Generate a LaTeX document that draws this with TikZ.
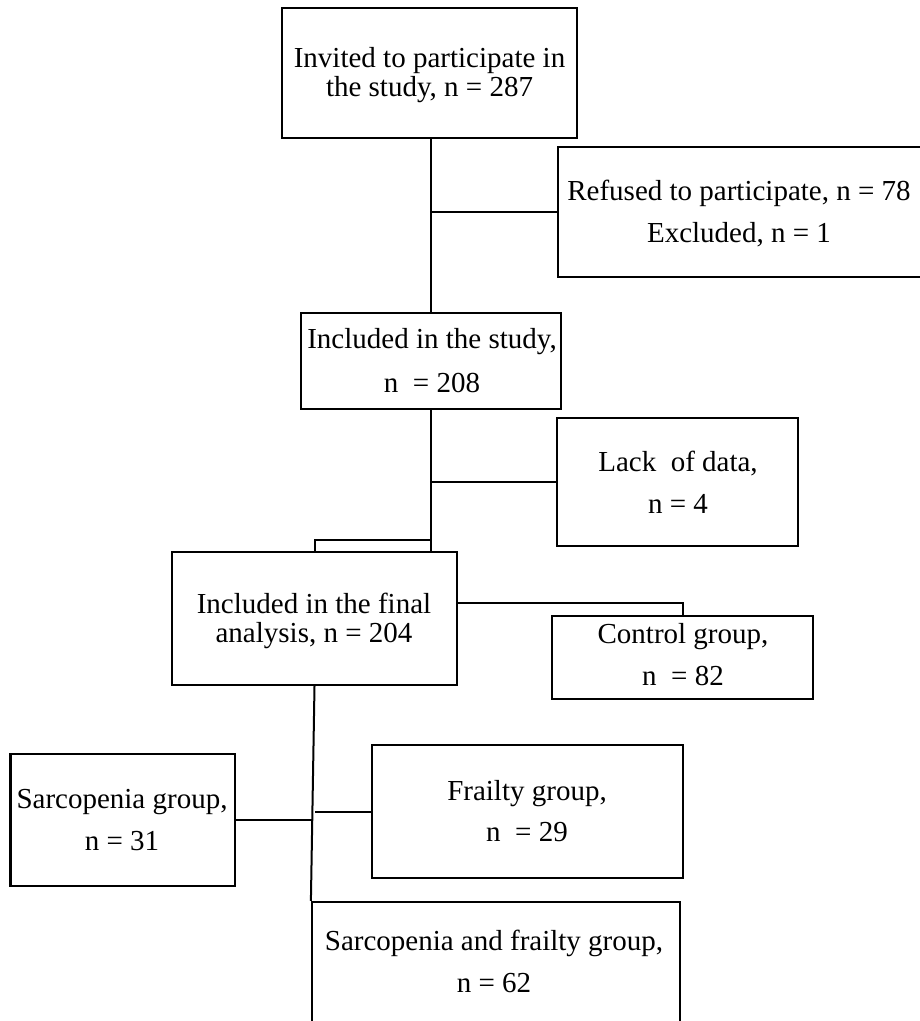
\documentclass[tikz,border=0pt]{standalone}
\usepackage{fontspec}
\setmainfont{Liberation Serif}
\usetikzlibrary{calc}
\tikzset{
  box/.style={draw, line width=2.2pt, inner sep=0pt, rectangle},
  txt/.style={anchor=base, inner sep=0pt, font=\fontsize{29}{29}\selectfont},
  conn/.style={line width=2pt}
}
\begin{document}
\begin{tikzpicture}[x=1pt,y=-1pt]
\useasboundingbox (0,0) rectangle (920,1021);
\clip (0,0) rectangle (920,1021);
% boxes
\node[box, minimum width=295pt, minimum height=130pt] (b1) at (429.5,73) {};
\node[box, minimum width=377pt, minimum height=130pt] (b2) at (746.5,212) {};
\node[box, minimum width=260pt, minimum height=96pt] (b3) at (431,361) {};
\node[box, minimum width=241pt, minimum height=128pt] (b4) at (677.5,482) {};
\node[box, minimum width=285pt, minimum height=133pt] (b5) at (314.5,618.5) {};
\node[box, minimum width=261pt, minimum height=83pt] (b6) at (682.5,657.5) {};
\node[box, minimum width=224.5pt, minimum height=132pt] (b7) at (122.75,820) {};
\node[box, minimum width=311pt, minimum height=133pt] (b8) at (527.5,811.5) {};
\node[box, minimum width=368pt, minimum height=133pt] (b9) at (496,968.5) {};
% texts
\node[txt] (t1a) at (429.5,67.7) {Invited to participate in};
\node[txt] (t1b) at (429.5,96.7) {the study, n = 287};
\node[txt] (t2a) at (739,200) {Refused to participate, n = 78};
\node[txt] (t2b) at (739,242) {Excluded, n = 1};
\node[txt] (t3a) at (432,348) {Included in the study,};
\node[txt] (t3b) at (432,392) {n\ \ = 208};
\node[txt] (t4a) at (678,471) {Lack\ \ of data,};
\node[txt] (t4b) at (678,513) {n = 4};
\node[txt] (t5a) at (314,613) {Included in the final};
\node[txt] (t5b) at (314,642) {analysis, n = 204};
\node[txt] (t6a) at (683,643.6) {Control group,};
\node[txt] (t6b) at (683,685) {n\ \ = 82};
\node[txt] (t7a) at (122,808) {Sarcopenia group,};
\node[txt] (t7b) at (122,850) {n = 31};
\node[txt] (t8a) at (527,800) {Frailty group,};
\node[txt] (t8b) at (527,841.6) {n\ \ = 29};
\node[txt] (t9a) at (494,950) {Sarcopenia and frailty group,};
\node[txt] (t9b) at (494,992) {n = 62};
% connectors
\coordinate (j1) at (431,540);
\coordinate (s1) at (313,819);
\draw[conn] (b3.north) -- (b3.north |- b1.south);
\draw[conn] (b2.west) -- (b2.west -| b3.north);
\draw[conn] (b3.south) -- (b3.south |- b5.north);
\draw[conn] (b4.west) -- (b4.west -| b3.south);
\draw[conn] (j1) -| (b5.north);
\draw[conn] ([yshift=15.5pt]b5.east) -| (b6.north);
\draw[conn] (b5.south) -- (b9.north west);
\draw[conn] (b7.east) -- (b7.east -| s1);
\draw[conn] (b8.west) -- (b8.west -| b5.south);
\end{tikzpicture}
\end{document}
